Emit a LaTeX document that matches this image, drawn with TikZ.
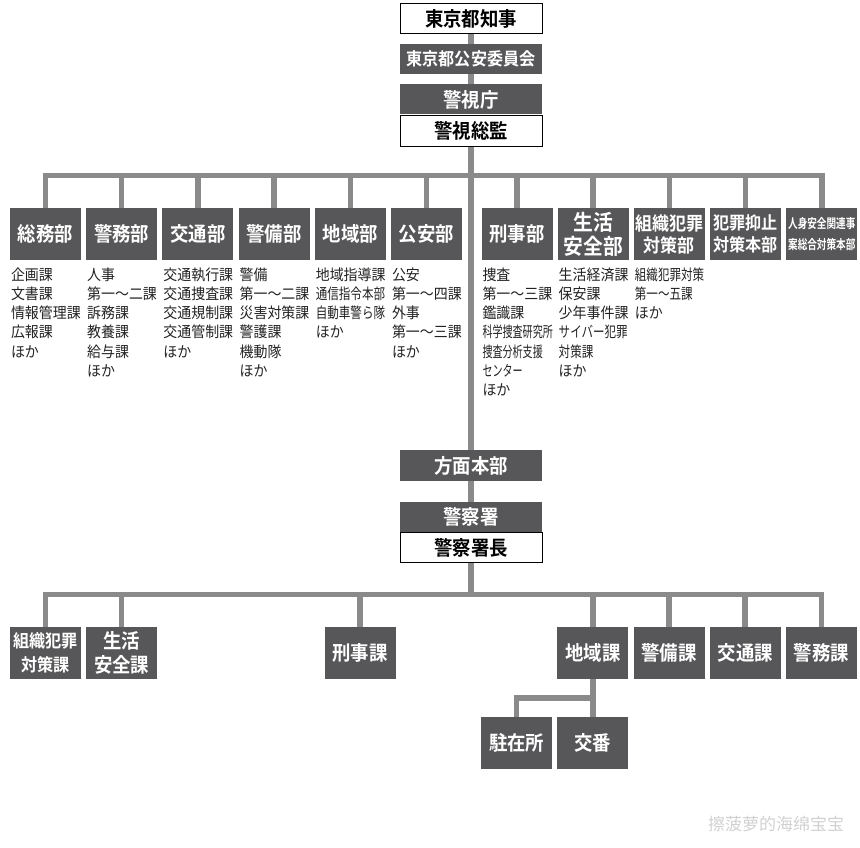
\documentclass[tikz,border=0pt]{standalone}
\usepackage{fontspec}
\setmainfont{Noto Sans CJK JP}[BoldFont={Noto Sans CJK JP Bold}]
\newfontfamily\listfont{Noto Sans CJK JP}[FakeStretch=0.93]
\newfontfamily\narrowfont{Noto Sans CJK JP}[FakeStretch=0.77]
\newfontfamily\narrowerfont{Noto Sans CJK JP}[FakeStretch=0.67]
\newfontfamily\titlefont{Noto Sans CJK JP Bold}[FakeStretch=0.92]
\newfontfamily\narrowbold{Noto Sans CJK JP Bold}[FakeStretch=0.74]
\newfontfamily\scfont{Noto Sans CJK SC}
\usetikzlibrary{positioning,calc}
\definecolor{boxgray}{HTML}{575759}
\definecolor{linegray}{HTML}{8A8A8A}
\definecolor{listtext}{HTML}{222222}

\begin{document}
\begin{tikzpicture}[x=1pt, y=-1pt,
    node distance=4.8pt,
    dept/.style={fill=boxgray, text=white, minimum width=71pt, minimum height=52pt, inner sep=0pt, align=center, font=\titlefont\fontsize{20}{24}\selectfont},
    headbox/.style={minimum width=142pt, minimum height=30pt, inner sep=0pt, font=\titlefont\fontsize{20}{22}\selectfont},
    darkbox/.style={headbox, fill=boxgray, text=white},
    whitebox/.style={headbox, fill=white, draw=black, line width=0.9pt, text=black},
    sublist/.style={anchor=north west, inner sep=0pt, align=left, text=listtext, font=\listfont\fontsize{15}{19.3}\selectfont, execute at begin node=\strut},
    conn/.style={draw=linegray, line width=5.5pt}
  ]
    \useasboundingbox (0,0) rectangle (860,848);

    % top of the chain
    \node[whitebox] (chiji) at (471,18.5) {東京都知事};
    \node[darkbox, font=\titlefont\fontsize{17.5}{20}\selectfont] (iinkai) at (471,59) {東京都公安委員会};
    \node[darkbox] (keishicho) at (471,99.5) {警視庁};
    \node[whitebox, below=0pt of keishicho, minimum height=31pt] (soukan) {警視総監};

    % departments
    \node[dept] (soumu) at (45.5,234) {総務部};
    \node[dept, right=of soumu] (keimu) {警務部};
    \node[dept, right=of keimu] (koutsu) {交通部};
    \node[dept, right=of koutsu] (keibi) {警備部};
    \node[dept, right=of keibi] (chiiki) {地域部};
    \node[dept, right=of chiiki] (kouan) {公安部};
    \node[dept] (keiji) at (517,234) {刑事部};
    \node[dept, right=of keiji, font=\titlefont\fontsize{21.5}{24}\selectfont] (seikatsu) {生活\\安全部};
    \node[dept, right=of seikatsu, font=\titlefont\fontsize{18.5}{22}\selectfont] (soshiki) {組織犯罪\\対策部};
    \node[dept, right=of soshiki, font=\titlefont\fontsize{17.5}{22}\selectfont] (yokushi) {犯罪抑止\\対策本部};
    \node[dept, right=of yokushi, font=\narrowbold\fontsize{13}{21}\selectfont] (jinshin) {人身安全関連事\\案総合対策本部};

    % sections under each department
    \node[sublist, below right=7pt and 1pt of soumu.south west] (soumu-list) {企画課\\文書課\\情報管理課\\広報課\\ほか};
    \node[sublist, below right=7pt and 1pt of keimu.south west] (keimu-list) {人事\\第一～二課\\訴務課\\教養課\\給与課\\ほか};
    \node[sublist, below right=7pt and 1pt of koutsu.south west] (koutsu-list) {交通執行課\\交通捜査課\\交通規制課\\交通管制課\\ほか};
    \node[sublist, below right=7pt and 1pt of keibi.south west] (keibi-list) {警備\\第一～二課\\災害対策課\\警護課\\機動隊\\ほか};
    \node[sublist, below right=7pt and 1pt of chiiki.south west] (chiiki-list) {地域指導課\\{\narrowfont 通信指令本部}\\{\narrowfont 自動車警ら隊}\\ほか};
    \node[sublist, below right=7pt and 1pt of kouan.south west] (kouan-list) {公安\\第一～四課\\外事\\第一～三課\\ほか};
    \node[sublist, below right=7pt and 1pt of keiji.south west] (keiji-list) {捜査\\第一～三課\\鑑識課\\{\narrowerfont 科学捜査研究所}\\{\narrowerfont 捜査分析支援}\\{\narrowerfont センター}\\ほか};
    \node[sublist, below right=7pt and 1pt of seikatsu.south west] (seikatsu-list) {生活経済課\\保安課\\少年事件課\\{\narrowfont サイバー犯罪}\\{\narrowfont 対策課}\\ほか};
    \node[sublist, below right=7pt and 1pt of soshiki.south west] (soshiki-list) {{\narrowfont 組織犯罪対策}\\{\narrowfont 第一～五課}\\ほか};

    % police stations
    \node[darkbox, minimum height=31pt] (houmen) at (471,465.5) {方面本部};
    \node[darkbox] (keisatsusho) at (471,517) {警察署};
    \node[whitebox, below=0pt of keisatsusho] (shochou) {警察署長};

    \node[dept, font=\titlefont\fontsize{17.5}{24}\selectfont] (soshikika) at (45.5,653) {組織犯罪\\対策課};
    \node[dept, right=of soshikika] (seikatsuka) {生活\\安全課};
    \node[dept] (keijika) at (360,653) {刑事課};
    \node[dept] (chiikika) at (592.8,653) {地域課};
    \node[dept, right=of chiikika] (keibika) {警備課};
    \node[dept, right=of keibika] (koutsuka) {交通課};
    \node[dept, right=of koutsuka] (keimuka) {警務課};
    \node[dept] (koban) at (592.8,743) {交番};
    \node[dept, left=of koban] (chuzai) {駐在所};

    % connectors
    \coordinate (bus) at (471,175.5);
    \coordinate (lowbus) at (471,594.5);
    \coordinate (split) at ($(chiikika.south)!.5!(koban.north)$);
    \draw[conn] (chiji) -- (iinkai);
    \draw[conn] (iinkai) -- (keishicho);
    \draw[conn] (soukan) -- (houmen);
    \draw[conn] (houmen) -- (keisatsusho);
    \draw[conn] (shochou) -- (lowbus);
    \foreach \d in {soumu,keimu,koutsu,keibi,chiiki,kouan,keiji,seikatsu,soshiki,yokushi,jinshin}
      \draw[conn] (\d.north) |- (bus);
    \foreach \d in {soshikika,seikatsuka,keijika,chiikika,keibika,koutsuka,keimuka}
      \draw[conn] (\d.north) |- (lowbus);
    \draw[conn] (chiikika) -- (koban);
    \draw[conn] (chuzai.north) |- (split);

    \node[text=black!18, font=\scfont\fontsize{17}{17}\selectfont] (mark) at (776,824) {擦菠萝的海绵宝宝};
  \end{tikzpicture}
\end{document}
